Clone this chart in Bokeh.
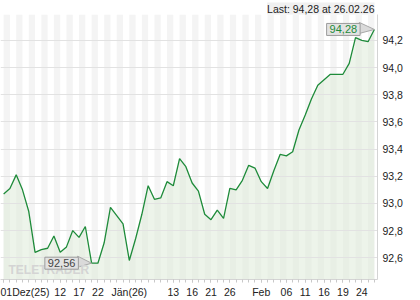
import pandas as pd
from bokeh.plotting import figure
from bokeh.models import Range1d, FixedTicker, CustomJSTickFormatter, Label, Title
from bokeh.embed import file_html
from bokeh.resources import INLINE

holidays = ["2025-12-24", "2025-12-25", "2025-12-26", "2026-01-01"]
dates = [d.strftime("%Y-%m-%d") for d in pd.bdate_range("2025-12-01", "2026-02-26")
         if d.strftime("%Y-%m-%d") not in holidays]

values = [93.07, 93.11, 93.21, 93.10, 92.94, 92.64, 92.66, 92.67, 92.76, 92.64,
          92.68, 92.80, 92.75, 92.83, 92.56, 92.56, 92.71, 92.97, 92.91, 92.85,
          92.58, 92.74, 92.92, 93.13, 93.03, 93.04, 93.16, 93.13, 93.33, 93.27,
          93.15, 93.09, 92.92, 92.88, 92.95, 92.89, 93.11, 93.10, 93.17, 93.28,
          93.26, 93.16, 93.11, 93.24, 93.36, 93.35, 93.38, 93.54, 93.65, 93.77,
          93.87, 93.91, 93.95, 93.95, 93.95, 94.03, 94.22, 94.20, 94.19, 94.28]

x_tick_dates = ["2025-12-01", "2025-12-12", "2025-12-17", "2025-12-22", "2026-01-02",
                "2026-01-13", "2026-01-16", "2026-01-21", "2026-01-26", "2026-02-02",
                "2026-02-06", "2026-02-11", "2026-02-16", "2026-02-19", "2026-02-24"]
x_tick_labels = ["01Dez(25)", "12", "17", "22", "Jän(26)", "13", "16", "21", "26", "Feb",
                 "06", "11", "16", "19", "24"]
y_ticks = [92.6, 92.8, 93.0, 93.2, 93.4, 93.6, 93.8, 94.0, 94.2]
last_text = "Last: 94,28 at 26.02.26"

n = len(values)
xs = list(range(n))
X0, X1 = -0.5, n - 0.5
Y0, Y1 = 92.44, 94.39
FW, FH = 377, 265
PXX = FW / (X1 - X0)
PXY = FH / (Y1 - Y0)
FONT = "Liberation Sans"

p = figure(frame_width=FW, frame_height=FH, x_range=Range1d(X0, X1), y_range=Range1d(Y0, Y1),
           y_axis_location="right", output_backend="svg", toolbar_location=None,
           min_border_left=0, min_border_right=43, min_border_top=0, min_border_bottom=20,
           outline_line_color=None, background_fill_color="white", border_fill_color="white")

p.title = Title(text=last_text, align="right", text_font_size="10.5px", text_font_style="normal",
                text_font=FONT, text_color="#222222", background_fill_color="#f0f0f0",
                standoff=0, offset=3)

# stripes (every other day)
even = xs[0::2]
p.quad(left=even, right=[i + 1 for i in even], bottom=Y0, top=Y1,
       fill_color="#f4f4f4", line_color=None, level="image")
# area under line
p.varea(x=xs, y1=Y0, y2=values, fill_color="#dbe9d6", fill_alpha=0.5, level="image")
p.line(xs, values, line_color="#1e8b3a", line_width=1.3)

# grid
p.xgrid.grid_line_color = None
p.ygrid.ticker = FixedTicker(ticks=y_ticks)
p.ygrid.grid_line_color = "#e2e2e2"

# y axis
yax = p.yaxis[0]
yax.ticker = FixedTicker(ticks=y_ticks)
yax.formatter = CustomJSTickFormatter(code="return tick.toFixed(1).replace('.', ',')")
yax.axis_line_color = "#d4d4d4"
yax.major_tick_out = 0
yax.major_tick_in = 0
yax.minor_tick_line_color = None
yax.major_label_standoff = 5
yax.major_label_text_font = FONT
yax.major_label_text_font_size = "10.5px"
yax.major_label_text_color = "#222222"

# x axis
tick_idx = [dates.index(d) for d in x_tick_dates]
xax = p.xaxis[0]
xax.ticker = FixedTicker(ticks=tick_idx, minor_ticks=xs)
xax.major_label_overrides = {i: lab for i, lab in zip(tick_idx, x_tick_labels)}
xax.major_label_text_align = "left"
xax.axis_line_color = "#d4d4d4"
xax.major_tick_line_color = "#c8c8c8"
xax.minor_tick_line_color = "#c8c8c8"
xax.major_tick_out = 3
xax.major_tick_in = 0
xax.minor_tick_out = 3
xax.minor_tick_in = 0
xax.major_label_standoff = 3
xax.major_label_text_font = FONT
xax.major_label_text_font_size = "10.5px"
xax.major_label_text_color = "#222222"

# watermark
p.add_layout(Label(x=X0, y=Y0, x_offset=8, y_offset=3, text="TELETRADER",
                   text_font=FONT, text_font_style="bold", text_font_size="12px",
                   text_color="#d4d4d4"))

def callout(i, color, off):
    xv, yv = xs[i], values[i]
    gap = (off - 16) / PXX
    p.patch([xv - gap, xv, xv - gap], [yv + 7 / PXY, yv, yv - 4 / PXY],
            fill_color="#dadada", line_color="#a8a8a8", line_width=1)
    p.add_layout(Label(x=xv, y=yv, x_offset=-off, text=f"{yv:.2f}".replace(".", ","),
                       text_align="center", text_baseline="middle", text_font=FONT,
                       text_font_size="11px", text_color=color,
                       background_fill_color="#e2e2e2", border_line_color="#9c9c9c",
                       padding=(3, 2)))

callout(n - 1, "#1e8b3a", 31)
imin = values.index(min(values))
callout(imin, "#444444", 30)

open("out.html", "w").write(file_html(p, INLINE))
